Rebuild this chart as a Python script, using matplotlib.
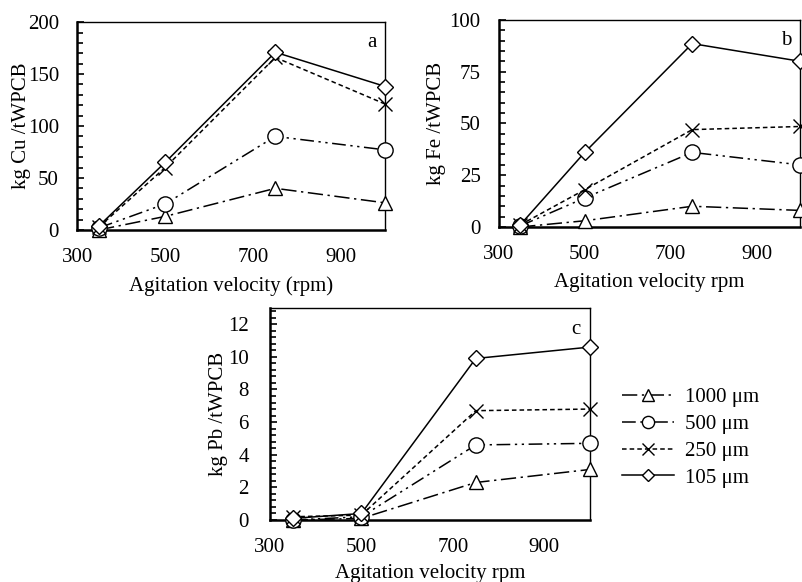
import matplotlib
matplotlib.use('Agg')
import matplotlib.pyplot as plt
from matplotlib.ticker import MultipleLocator

plt.rcParams['font.family'] = ['Liberation Serif', 'DejaVu Serif']

rpm = [350, 500, 750, 1000]
sizes = ['1000 μm', '500 μm', '250 μm', '105 μm']

# kg metal per tonne WPCB, one list per particle size
cu_1000 = [0, 13, 40, 26]
cu_500 = [2, 25, 90, 77]
cu_250 = [3, 60, 166, 121]
cu_105 = [4, 65, 171, 138]

fe_1000 = [0, 3, 10, 8]
fe_500 = [0.5, 14, 36, 30]
fe_250 = [1, 18, 47, 48.5]
fe_105 = [1, 36, 88.5, 80]

pb_1000 = [0, 0.1, 2.3, 3.1]
pb_500 = [0, 0.2, 4.6, 4.7]
pb_250 = [0.2, 0.3, 6.7, 6.8]
pb_105 = [0.1, 0.4, 9.9, 10.6]

styles = [
    dict(marker='^', ls=(0, (10, 3, 1.5, 3))),
    dict(marker='o', ls=(0, (9, 3, 1.5, 3, 1.5, 3))),
    dict(marker='x', ls=(0, (3, 2))),
    dict(marker='D', ls='-'),
]
msizes = {'^': 10, 'o': 11, 'x': 10, 'D': 8}

fig = plt.figure(figsize=(8.03, 5.82), dpi=100)

def panel(rect, series, ylim, major, minor, ylabel, xlabel, tag, ypad, ylab_x, xlab_y):
    ax = fig.add_axes(rect)
    for s, st, lab in zip(series, styles, sizes):
        ax.plot(rpm, s, color='black', lw=1.1, ls=st['ls'], marker=st['marker'],
                ms=msizes[st['marker']], mfc='white', mec='black', mew=1.0,
                label=lab, clip_on=False, zorder=3)
    ax.set_xlim(300, 1000)
    ax.set_ylim(*ylim)
    ax.set_xticks([300, 500, 700, 900])
    ax.yaxis.set_major_locator(MultipleLocator(major))
    ax.yaxis.set_minor_locator(MultipleLocator(minor))
    ax.tick_params(axis='x', length=0, labelsize=15, pad=13)
    ax.tick_params(axis='y', which='major', direction='in', length=5, width=1.2,
                   labelsize=15, pad=ypad)
    ax.tick_params(axis='y', which='minor', direction='in', length=4, width=1.2)
    for sp in ['left', 'bottom']:
        ax.spines[sp].set_linewidth(1.8)
    for sp in ['top', 'right']:
        ax.spines[sp].set_linewidth(1.0)
    ax.set_ylabel(ylabel, fontsize=15)
    ax.set_xlabel(xlabel, fontsize=15, va='top')
    ax.yaxis.set_label_coords(ylab_x, 0.5)
    ax.xaxis.set_label_coords(0.5, xlab_y)
    ax.text(0.955, 0.9, tag, transform=ax.transAxes, fontsize=15,
            ha='center', va='center')
    return ax

panel([0.096, 0.605, 0.384, 0.357], [cu_1000, cu_500, cu_250, cu_105],
      (0, 200), 50, 10, 'kg Cu /tWPCB', 'Agitation velocity (rpm)', 'a',
      13, -0.15, -0.225)
panel([0.621, 0.610, 0.375, 0.356], [fe_1000, fe_500, fe_250, fe_105],
      (0, 100), 25, 5, 'kg Fe /tWPCB', 'Agitation velocity rpm', 'b',
      13, -0.175, -0.222)
axc = panel([0.336, 0.1065, 0.399, 0.3645], [pb_1000, pb_500, pb_250, pb_105],
            (0, 13), 2, 0.4, 'kg Pb /tWPCB', 'Agitation velocity rpm', 'c',
            15, -0.13, -0.205)

handles, labels = axc.get_legend_handles_labels()
leg = fig.legend(handles, labels, loc='upper left', bbox_to_anchor=(0.762, 0.352),
                 frameon=False, fontsize=15, handlelength=2.5, handletextpad=0.5,
                 labelspacing=0.35, markerscale=0.8, borderpad=0)

fig.savefig('out.png', dpi=100)
